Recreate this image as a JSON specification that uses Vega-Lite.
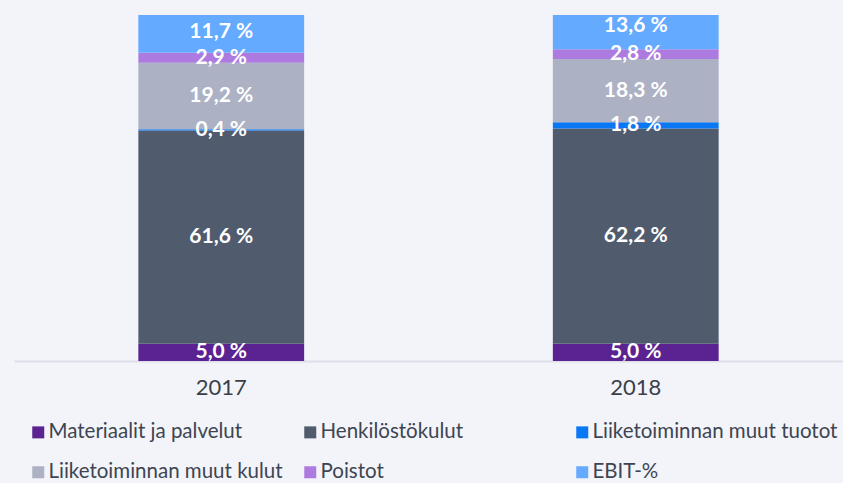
{
  "$schema": "https://vega.github.io/schema/vega-lite/v6.json",
  "width": 829,
  "height": 346,
  "autosize": {"type": "none"},
  "padding": {"left": 14, "top": 15, "right": 0, "bottom": 122},
  "background": "#F3F4F9",
  "config": {
    "view": {"stroke": null},
    "font": "Lato"
  },
  "data": {
    "values": [
      {"year": "2017", "category": "Materiaalit ja palvelut", "value": 5.0},
      {"year": "2017", "category": "Henkilöstökulut", "value": 61.6},
      {"year": "2017", "category": "Liiketoiminnan muut tuotot", "value": 0.4},
      {"year": "2017", "category": "Liiketoiminnan muut kulut", "value": 19.2},
      {"year": "2017", "category": "Poistot", "value": 2.9},
      {"year": "2017", "category": "EBIT-%", "value": 11.7},
      {"year": "2018", "category": "Materiaalit ja palvelut", "value": 5.0},
      {"year": "2018", "category": "Henkilöstökulut", "value": 62.2},
      {"year": "2018", "category": "Liiketoiminnan muut tuotot", "value": 1.8},
      {"year": "2018", "category": "Liiketoiminnan muut kulut", "value": 18.3},
      {"year": "2018", "category": "Poistot", "value": 2.8},
      {"year": "2018", "category": "EBIT-%", "value": 13.6}
    ]
  },
  "transform": [
    {"calculate": "indexof(['Materiaalit ja palvelut','Henkilöstökulut','Liiketoiminnan muut tuotot','Liiketoiminnan muut kulut','Poistot','EBIT-%'], datum.category)", "as": "ord"},
    {"stack": "value", "groupby": ["year"], "sort": [{"field": "ord", "order": "ascending"}], "as": ["v0", "v1"]},
    {"calculate": "(datum.v0 + datum.v1) / 2", "as": "mid"},
    {"calculate": "replace(format(datum.value, '.1f'), '.', ',') + ' %'", "as": "label"}
  ],
  "encoding": {
    "x": {
      "field": "year",
      "type": "nominal",
      "scale": {"paddingInner": 0.6, "paddingOuter": 0.3},
      "axis": {
        "title": null,
        "domain": false,
        "ticks": false,
        "labelAngle": 0,
        "labelFontSize": 22,
        "labelColor": "#3A3F4A",
        "labelPadding": 16
      }
    }
  },
  "layer": [
    {
      "mark": {"type": "bar", "clip": true},
      "encoding": {
        "y": {
          "field": "v0",
          "type": "quantitative",
          "scale": {"domain": [0, 100], "nice": false},
          "axis": {"title": null, "domain": false, "ticks": false, "labels": false, "grid": true, "values": [0], "gridColor": "#DCDFE7", "gridWidth": 2}
        },
        "y2": {"field": "v1"},
        "color": {
          "field": "category",
          "type": "nominal",
          "scale": {
            "domain": ["Materiaalit ja palvelut", "Henkilöstökulut", "Liiketoiminnan muut tuotot", "Liiketoiminnan muut kulut", "Poistot", "EBIT-%"],
            "range": ["#5A2391", "#505C6E", "#0A78F5", "#ACB2C4", "#AD7BE0", "#64AAFF"]
          },
          "legend": {
            "title": null,
            "orient": "none",
            "legendX": 14,
            "legendY": 407,
            "direction": "horizontal",
            "columns": 3,
            "gridAlign": "all",
            "columnPadding": 6,
            "rowPadding": 19,
            "symbolType": "square",
            "symbolSize": 144,
            "symbolStrokeWidth": 0,
            "labelFontSize": 20.5,
            "labelColor": "#3E4552",
            "labelOffset": 0,
            "labelLimit": 400
          }
        }
      }
    },
    {
      "mark": {"type": "text", "color": "white", "fontWeight": "bold", "fontSize": 21, "baseline": "middle"},
      "encoding": {
        "y": {"field": "mid", "type": "quantitative"},
        "text": {"field": "label"}
      }
    }
  ]
}
